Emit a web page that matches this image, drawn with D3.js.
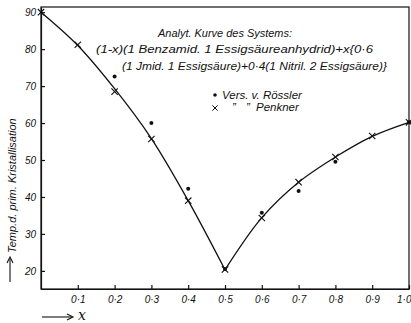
<!DOCTYPE html>
<html>
<head>
<meta charset="utf-8">
<script src="https://cdn.jsdelivr.net/npm/d3@7"></script>
<style>
  body { margin: 0; background: #fff; }
  text { font-family: "Liberation Sans", "DejaVu Sans", sans-serif; font-style: italic; fill: #111; }
  .axis path, .axis line { stroke: #111; stroke-width: 1.2; }
  .axis text { font-size: 10px; }
</style>
</head>
<body>
<div id="graph"></div>
<script>
// values
var molFraction = [0, 0.1, 0.2, 0.3, 0.4, 0.5, 0.6, 0.7, 0.8, 0.9, 1.0];
var curveTemp   = [90, 81, 69.3, 55.8, 39, 20.3, 34.4, 44, 50.8, 56.4, 60.2];

var penknerX = [0, 0.1, 0.2, 0.3, 0.4, 0.5, 0.6, 0.7, 0.8, 0.9, 1.0];
var penknerY = [90, 81.2, 68.5, 55.7, 39, 20.4, 34.3, 44, 50.8, 56.5, 60.2];

var roesslerX = [0.2, 0.3, 0.4, 0.5, 0.6, 0.7, 0.8, 1.0];
var roesslerY = [72.6, 60, 42.2, 20.5, 35.7, 41.6, 49.5, 60.2];

var yTicks = [20, 30, 40, 50, 60, 70, 80, 90];
var xTicks = [0.1, 0.2, 0.3, 0.4, 0.5, 0.6, 0.7, 0.8, 0.9, 1.0];

var legendLines = [
  "Analyt. Kurve des Systems:",
  "(1-x)(1 Benzamid. 1 Essigsäureanhydrid)+x{0·6",
  "(1 Jmid. 1 Essigsäure)+0·4(1 Nitril. 2 Essigsäure)}"
];

var svg = d3.select('#graph').append("svg")
  .attr('width', 411)
  .attr('height', 323);

var margin = {top: 7, right: 2, bottom: 34, left: 41},
  width = +svg.attr("width") - margin.left - margin.right,
  height = +svg.attr("height") - margin.top - margin.bottom,
  g = svg.append("g").attr("transform", "translate(" + margin.left + "," + margin.top + ")");

var x = d3.scaleLinear().domain([0, 1]).range([0, width]);
var y = d3.scaleLinear().domain([15.1, 91.4]).range([height, 0]);

// frame
g.append("rect")
  .attr("width", width).attr("height", height)
  .attr("fill", "none").attr("stroke", "#111").attr("stroke-width", 1.2);

var fmt = function(d) { return d3.format(".1f")(d).replace(".", "·"); };

var xAxis = g.append("g").attr("class", "axis")
  .attr("transform", "translate(0," + height + ")")
  .call(d3.axisBottom(x).tickValues(xTicks).tickFormat(fmt).tickSizeInner(-4).tickSizeOuter(0).tickPadding(7));

// last label sits against the page edge
xAxis.selectAll(".tick text")
  .filter(function(d) { return d === 1.0; })
  .attr("text-anchor", "end")
  .attr("dx", 2);

g.append("g").attr("class", "axis")
  .call(d3.axisLeft(y).tickValues(yTicks).tickSizeInner(-4).tickSizeOuter(0).tickPadding(5));

g.selectAll(".axis text").style("font-family", null);

// analytic curve, two branches meeting at the eutectic
var line = d3.line()
  .x(function(d) { return x(d[0]); })
  .y(function(d) { return y(d[1]); })
  .curve(d3.curveCatmullRom);

var pts = molFraction.map(function(v, i) { return [v, curveTemp[i]]; });
var k = molFraction.indexOf(0.5);
[pts.slice(0, k + 1), pts.slice(k)].forEach(function(seg) {
  g.append("path")
    .attr("d", line(seg))
    .attr("fill", "none")
    .attr("stroke", "#111")
    .attr("stroke-width", 1.3);
});

// Rössler: dots
g.selectAll(".dot")
  .data(roesslerX.map(function(v, i) { return [v, roesslerY[i]]; }))
  .enter().append("circle")
  .attr("class", "dot")
  .attr("r", 2)
  .attr("cx", function(d) { return x(d[0]); })
  .attr("cy", function(d) { return y(d[1]); })
  .attr("fill", "#111");

// Penkner: crosses
var cross = d3.symbol().type(d3.symbolX).size(28);
g.selectAll(".cross")
  .data(penknerX.map(function(v, i) { return [v, penknerY[i]]; }))
  .enter().append("path")
  .attr("class", "cross")
  .attr("d", cross)
  .attr("transform", function(d) { return "translate(" + x(d[0]) + "," + y(d[1]) + ")"; })
  .attr("fill", "none")
  .attr("stroke", "#111")
  .attr("stroke-width", 1.1);

// annotation
var ann = [
  {t: legendLines[0], x: 158, y: 37, w: 134},
  {t: legendLines[1], x: 96, y: 53, w: 277},
  {t: legendLines[2], x: 122, y: 70, w: 265}
];
svg.selectAll(".ann")
  .data(ann)
  .enter().append("text")
  .attr("class", "ann")
  .attr("x", function(d) { return d.x; })
  .attr("y", function(d) { return d.y; })
  .attr("textLength", function(d) { return d.w; })
  .attr("lengthAdjust", "spacingAndGlyphs")
  .style("font-size", "11.5px")
  .text(function(d) { return d.t; });

// legend
svg.append("circle").attr("cx", 215).attr("cy", 95).attr("r", 1.8).attr("fill", "#111");
svg.append("text").attr("x", 222).attr("y", 99).style("font-size", "11.5px").text("Vers. v. Rössler");
svg.append("path").attr("d", d3.symbol().type(d3.symbolX).size(20))
  .attr("transform", "translate(215,108)")
  .attr("fill", "none").attr("stroke", "#111").attr("stroke-width", 1);
svg.append("text").attr("x", 232).attr("y", 111).style("font-size", "11.5px").text("\u201D");
svg.append("text").attr("x", 246).attr("y", 111).style("font-size", "11.5px").text("\u201D");
svg.append("text").attr("x", 256).attr("y", 111).style("font-size", "11.5px").text("Penkner");

// y axis title with arrow
svg.append("text")
  .attr("transform", "translate(16,253) rotate(-90)")
  .style("font-size", "11px")
  .text("Temp.d. prim. Kristallisation");
svg.append("line").attr("x1", 10).attr("y1", 282).attr("x2", 10).attr("y2", 259)
  .attr("stroke", "#111").attr("stroke-width", 1.1);
svg.append("path").attr("d", "M7,263L10,257L13,263")
  .attr("fill", "none").attr("stroke", "#111").attr("stroke-width", 1.1);

// x axis title with arrow
svg.append("line").attr("x1", 42).attr("y1", 317).attr("x2", 72).attr("y2", 317)
  .attr("stroke", "#111").attr("stroke-width", 1.1);
svg.append("path").attr("d", "M67,314L73,317L67,320")
  .attr("fill", "none").attr("stroke", "#111").attr("stroke-width", 1.1);
svg.append("text").attr("x", 78).attr("y", 320)
  .style("font-family", "'DejaVu Serif', serif")
  .style("font-size", "14px")
  .text("x");
</script>
</body>
</html>
